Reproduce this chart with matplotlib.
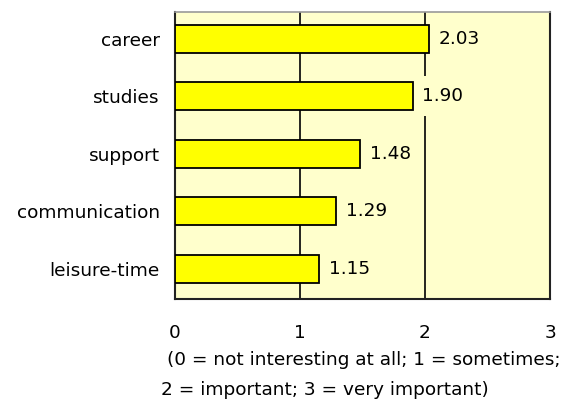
import matplotlib
matplotlib.use("Agg")
import matplotlib.pyplot as plt

categories = ["career", "studies", "support", "communication", "leisure-time"]
values = [2.03, 1.90, 1.48, 1.29, 1.15]
xticks = [0, 1, 2, 3]
caption = ["(0 = not interesting at all; 1 = sometimes;",
           "2 = important; 3 = very important)"]

plt.rcParams["font.family"] = ["DejaVu Sans"]
fs = 13.3

bg = "#FFFFCC"
fig = plt.figure(figsize=(5.63, 4.03), dpi=100)
ax = fig.add_axes([175 / 563, 1 - 299 / 403, (550 - 175) / 563, (299 - 12) / 403])
ax.set_facecolor(bg)

ypos = list(range(len(categories)))
ax.barh(ypos, values, height=0.49, color="#FFFF00", edgecolor="black",
        linewidth=1.3, zorder=3)
# value labels sit on a background-coloured box that hides the grid behind them
for y, v in zip(ypos, values):
    ax.text(v + 0.08, y, f"{v:.2f}", va="center", ha="left", fontsize=fs,
            zorder=2.5,
            bbox=dict(boxstyle="square,pad=0.6", facecolor=bg, edgecolor="none"))

shift = 0.03
ax.set_xlim(0, 3)
ax.set_ylim(len(categories) - 0.5 + shift, -0.5 + shift)
ax.set_yticks(ypos)
ax.set_yticklabels(categories, fontsize=fs)
ax.set_xticks(xticks)
ax.set_xticklabels([str(t) for t in xticks], fontsize=fs)
ax.tick_params(axis="y", length=0, pad=11)
ax.tick_params(axis="x", length=0, pad=18)
ax.xaxis.grid(True, color="black", linewidth=1.2, zorder=1)
ax.set_axisbelow(True)

for side in ("left", "bottom", "right"):
    ax.spines[side].set_color("#222222")
    ax.spines[side].set_linewidth(1.5)
ax.spines["top"].set_color("#999999")
ax.spines["top"].set_linewidth(1.2)

fig.text(167 / 563, 1 - 365 / 403, caption[0], fontsize=fs, va="baseline", ha="left")
fig.text(161 / 563, 1 - 395 / 403, caption[1], fontsize=fs, va="baseline", ha="left")

fig.savefig("out.png", dpi=100, facecolor="white")
